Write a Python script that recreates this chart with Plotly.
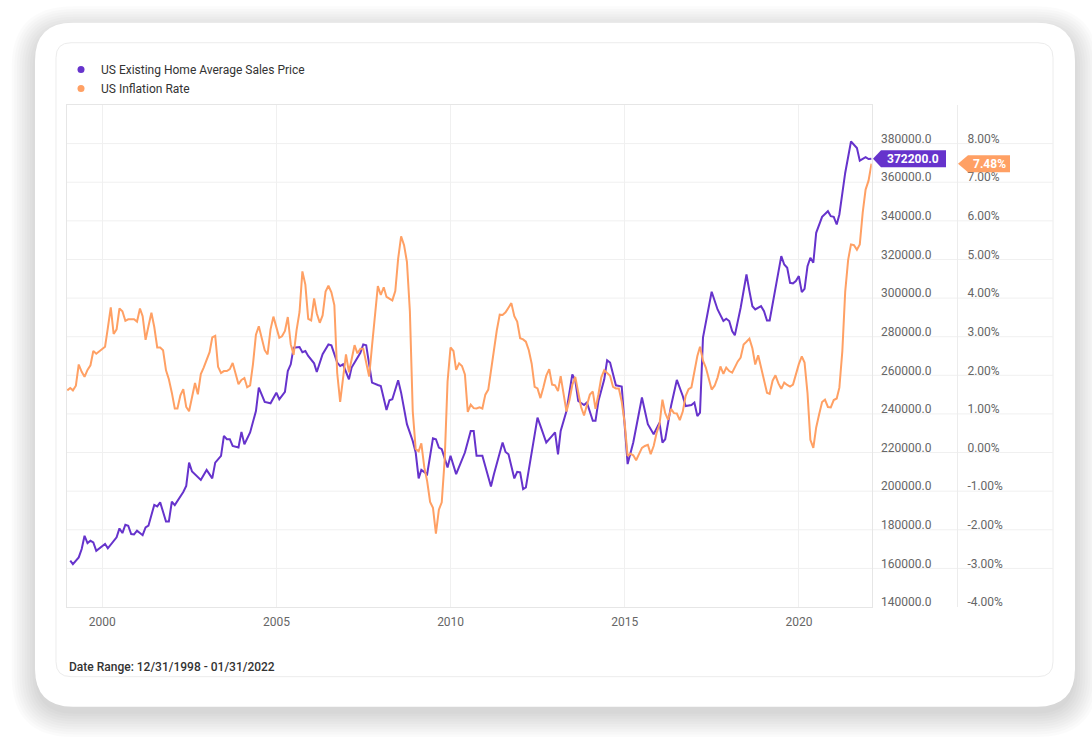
import plotly.graph_objects as go
import pandas as pd

# ---------------- data ----------------
price_months = [
    "1999-01", "1999-02", "1999-04", "1999-05", "1999-06", "1999-07", "1999-08", "1999-09", "1999-10",
    "2000-01", "2000-02", "2000-04", "2000-05", "2000-06", "2000-07", "2000-08", "2000-09", "2000-10", "2000-11", "2000-12",
    "2001-02", "2001-03", "2001-04", "2001-06", "2001-07", "2001-08", "2001-10", "2001-11", "2001-12",
    "2002-01", "2002-03", "2002-04", "2002-05", "2002-06", "2002-07", "2002-09", "2002-10", "2002-12",
    "2003-02", "2003-03", "2003-05", "2003-06", "2003-07", "2003-08", "2003-09", "2003-11", "2003-12",
    "2004-01", "2004-03", "2004-05", "2004-06", "2004-08", "2004-10", "2004-12",
    "2005-01", "2005-03", "2005-04", "2005-05", "2005-06", "2005-08", "2005-09", "2005-10", "2005-11",
    "2006-01", "2006-02", "2006-04", "2006-06", "2006-07", "2006-09", "2006-10", "2006-11",
    "2007-01", "2007-02", "2007-05", "2007-06", "2007-07", "2007-09", "2007-11", "2007-12",
    "2008-02", "2008-03", "2008-04", "2008-06", "2008-07", "2008-09", "2008-11", "2008-12",
    "2009-01", "2009-02", "2009-04", "2009-06", "2009-07", "2009-08", "2009-09", "2009-11", "2009-12",
    "2010-02", "2010-05", "2010-07", "2010-08", "2010-09", "2010-11",
    "2011-02", "2011-03", "2011-06", "2011-07", "2011-08", "2011-10", "2011-11", "2011-12",
    "2012-01", "2012-02", "2012-06", "2012-07", "2012-09", "2012-11", "2012-12",
    "2013-01", "2013-02", "2013-04", "2013-06", "2013-07", "2013-08", "2013-10", "2013-11",
    "2014-01", "2014-02", "2014-03", "2014-05", "2014-06", "2014-07", "2014-09", "2014-11",
    "2015-01", "2015-03", "2015-06", "2015-08", "2015-10", "2015-12",
    "2016-01", "2016-02", "2016-04", "2016-06", "2016-08", "2016-09", "2016-11", "2016-12",
    "2017-01", "2017-02", "2017-03", "2017-04", "2017-06", "2017-08", "2017-10", "2017-11", "2017-12",
    "2018-01", "2018-02", "2018-04", "2018-06", "2018-07", "2018-08", "2018-09", "2018-11", "2018-12",
    "2019-01", "2019-02", "2019-04", "2019-06", "2019-07", "2019-08", "2019-09", "2019-10", "2019-11", "2019-12",
    "2020-01", "2020-02", "2020-03", "2020-04", "2020-05", "2020-06", "2020-08", "2020-10", "2020-11", "2020-12",
    "2021-01", "2021-02", "2021-04", "2021-06", "2021-08", "2021-09", "2021-11", "2021-12",
    "2022-01",
]
price_values = [
    164000, 162200, 165700, 170000, 176900, 173100, 174300, 173500, 169100,
    172600, 170400, 174300, 176100, 180700, 178300, 182600, 182100, 177800, 177600, 179500,
    177200, 181200, 182100, 192900, 192100, 194200, 184300, 184300, 194500,
    192800, 197100, 199600, 202700, 214800, 210200, 207600, 205800, 211000,
    206600, 214800, 218300, 228600, 226900, 226900, 223400, 222600, 230700,
    224300, 230400, 241500, 253600, 246200, 245500, 251000,
    247600, 251400, 262200, 265700, 274300, 274600, 272000, 272600, 270000,
    266200, 261700, 270900, 276000, 275500, 266600, 264800, 265700,
    257900, 264000, 271700, 276000, 275500, 256200, 255000, 254500,
    242000, 247100, 247600, 257400, 251000, 234700, 226000, 220000,
    206600, 211000, 208800, 227400, 226900, 222600, 221700, 212300, 218300,
    208800, 220000, 231200, 231200, 218300, 218300,
    202400, 208800, 225200, 220300, 219100, 206600, 210000, 209700,
    201000, 201900, 238100, 233800, 225200, 228600, 230400,
    219100, 231200, 241500, 260500, 257400, 246700, 244600, 245900,
    236400, 236400, 246700, 257900, 267800, 266600, 254800, 254200,
    214000, 225200, 248500, 234700, 229500, 235500,
    225200, 226900, 244100, 257600, 249300, 244100, 244600, 245900,
    238900, 240700, 279500, 287300, 303300, 294100, 288100, 289300, 288100,
    282900, 280700, 295000, 312200, 303600, 295800, 294100, 295800, 293200,
    288400, 288400, 304500, 321700, 317400, 315700, 307900, 307600, 308800, 311400,
    303100, 304800, 316500, 320900, 318300, 333800, 342100, 345000, 342400, 342100,
    338100, 343300, 364800, 381100, 377700, 371200, 373000, 372000,
    372200,
]

infl_start = "1998-12-31"
infl_values = [
    1.61,
    1.67, 1.61, 1.73, 2.28, 2.09, 1.96, 2.14, 2.26, 2.63, 2.56, 2.62, 2.68,
    2.74, 3.22, 3.76, 3.07, 3.19, 3.73, 3.66, 3.41, 3.45, 3.45, 3.45, 3.39,
    3.73, 3.53, 2.92, 3.27, 3.62, 3.25, 2.72, 2.72, 2.65, 2.13, 1.90, 1.55,
    1.14, 1.14, 1.48, 1.64, 1.18, 1.07, 1.46, 1.80, 1.51, 2.03, 2.20, 2.38,
    2.60, 2.98, 3.02, 2.22, 2.06, 2.11, 2.11, 2.16, 2.32, 2.04, 1.77, 1.88,
    1.93, 1.69, 1.74, 2.29, 3.05, 3.27, 2.99, 2.65, 2.54, 3.19, 3.52, 3.26,
    2.97, 3.01, 3.15, 3.51, 2.80, 2.53, 3.17, 3.64, 4.69, 4.35, 3.46, 3.42,
    3.99, 3.60, 3.36, 3.55, 4.17, 4.32, 4.15, 3.82, 2.06, 1.31, 1.97, 2.54,
    2.08, 2.42, 2.78, 2.57, 2.69, 2.69, 2.36, 1.97, 2.76, 3.54, 4.31, 4.08,
    4.28, 4.03, 3.98, 3.94, 4.18, 5.02, 5.60, 5.37, 4.94, 3.66, 1.07, 0.09,
    0.03, 0.24, -0.38, -0.74, -1.28, -1.43, -2.10, -1.48, -1.29, -0.18, 1.84, 2.72,
    2.63, 2.14, 2.31, 2.24, 2.02, 1.05, 1.24, 1.15, 1.14, 1.17, 1.14, 1.50,
    1.63, 2.11, 2.68, 3.16, 3.57, 3.56, 3.63, 3.77, 3.87, 3.53, 3.39, 2.96,
    2.93, 2.87, 2.65, 2.30, 1.70, 1.66, 1.41, 1.69, 1.99, 2.16, 1.76, 1.74,
    1.59, 1.98, 1.47, 1.06, 1.36, 1.75, 1.96, 1.52, 1.18, 0.96, 1.24, 1.50,
    1.58, 1.13, 1.51, 1.95, 2.13, 2.07, 1.99, 1.70, 1.66, 1.66, 1.32, 0.76,
    -0.09, -0.03, -0.07, -0.20, -0.04, 0.12, 0.17, 0.20, -0.04, 0.17, 0.50, 0.73,
    1.37, 1.02, 0.85, 1.13, 1.02, 1.01, 0.84, 1.06, 1.46, 1.64, 1.69, 2.07,
    2.50, 2.74, 2.38, 2.20, 1.87, 1.63, 1.73, 1.94, 2.23, 2.04, 2.20, 2.11,
    2.07, 2.21, 2.36, 2.46, 2.80, 2.87, 2.95, 2.70, 2.28, 2.52, 2.18, 1.91,
    1.55, 1.52, 1.86, 2.00, 1.79, 1.65, 1.81, 1.75, 1.71, 1.76, 2.05, 2.29,
    2.49, 2.33, 1.54, 0.33, 0.12, 0.65, 0.99, 1.31, 1.37, 1.18, 1.17, 1.36,
    1.40, 1.68, 2.62, 4.16, 4.99, 5.39, 5.37, 5.25, 5.39, 6.22, 6.81, 7.04,
    7.48,
]

price_ticks = [140000, 160000, 180000, 200000, 220000, 240000, 260000,
               280000, 300000, 320000, 340000, 360000, 380000]
infl_ticks = [-4, -3, -2, -1, 0, 1, 2, 3, 4, 5, 6, 7, 8]
year_ticks = ["2000", "2005", "2010", "2015", "2020"]

series_names = ["US Existing Home Average Sales Price", "US Inflation Rate"]
date_range_text = "Date Range: 12/31/1998 - 01/31/2022"

PURPLE = "#6633cc"
ORANGE = "#ffa064"
FONT = "Roboto"

price_dates = pd.to_datetime(price_months) + pd.offsets.MonthEnd(0)
infl_dates = pd.date_range(infl_start, periods=len(infl_values), freq="ME")

# ---------------- geometry (page pixels) ----------------
W, H = 1092, 737
L, T = 67, 105          # plot left / top
PR = 871.7              # plot right
AXR = 957               # second axis line
B = 607.3               # plot bottom


def fx(px):
    return (px - L) / (AXR - L)


def fy(py):
    return (B - py) / (B - T)


def rrect(x0, y0, x1, y1, r):
    pts = [
        ("M", [(x0 + r, y0)]), ("L", [(x1 - r, y0)]), ("Q", [(x1, y0), (x1, y0 + r)]),
        ("L", [(x1, y1 - r)]), ("Q", [(x1, y1), (x1 - r, y1)]), ("L", [(x0 + r, y1)]),
        ("Q", [(x0, y1), (x0, y1 - r)]), ("L", [(x0, y0 + r)]), ("Q", [(x0, y0), (x0 + r, y0)]),
    ]
    s = ""
    for cmd, ps in pts:
        s += cmd + " " + " ".join(f"{fx(a):.5f},{fy(b):.5f}" for a, b in ps) + " "
    return s + "Z"


fig = go.Figure()

fig.add_trace(go.Scatter(x=price_dates, y=price_values, mode="lines",
                         line=dict(color=PURPLE, width=2), yaxis="y",
                         showlegend=False, hoverinfo="skip"))
fig.add_trace(go.Scatter(x=infl_dates, y=infl_values, mode="lines",
                         line=dict(color=ORANGE, width=2), yaxis="y2",
                         showlegend=False, hoverinfo="skip"))
# legend entries (circles)
for name, col in zip(series_names, [PURPLE, ORANGE]):
    fig.add_trace(go.Scatter(x=[None], y=[None], mode="markers", name=name,
                             marker=dict(color=col, size=7, symbol="circle")))

shapes = []
# card shadow
for i in range(10):
    s = 2.6 * i
    shapes.append(dict(type="path", xref="paper", yref="paper", layer="below",
                       path=rrect(35 - s, 22.7 - s + 7, 1075 + s, 707 + s + 7, 38 + s),
                       fillcolor="rgba(0,0,0,0.016)", line=dict(width=0)))
# card
shapes.append(dict(type="path", xref="paper", yref="paper", layer="below",
                   path=rrect(35, 22.7, 1075, 707, 38),
                   fillcolor="white", line=dict(width=0)))
# inner frame
shapes.append(dict(type="path", xref="paper", yref="paper", layer="below",
                   path=rrect(56, 42.7, 1053, 677, 15),
                   fillcolor="rgba(0,0,0,0)", line=dict(color="#ececec", width=1)))
# horizontal gridlines spanning into the label area
for v in price_ticks[1:]:
    shapes.append(dict(type="line", xref="paper", yref="y", layer="below",
                       x0=0, x1=fx(1053), y0=v, y1=v,
                       line=dict(color="#f0f0f0", width=1)))
# value badges
shapes.append(dict(type="path", xref="paper", yref="y", ysizemode="pixel",
                   yanchor=price_values[-1], layer="above",
                   path=f"M {fx(873):.5f},0 L {fx(881):.5f},8.5 L {fx(946):.5f},8.5 "
                        f"L {fx(946):.5f},-8.5 L {fx(881):.5f},-8.5 Z",
                   fillcolor=PURPLE, line=dict(width=0)))
shapes.append(dict(type="path", xref="paper", yref="y2", ysizemode="pixel",
                   yanchor=infl_values[-1], layer="above",
                   path=f"M {fx(958):.5f},0 L {fx(968):.5f},8.5 L {fx(1010):.5f},8.5 "
                        f"L {fx(1010):.5f},-8.5 L {fx(968):.5f},-8.5 Z",
                   fillcolor=ORANGE, line=dict(width=0)))

annotations = [
    dict(x=0, y=fy(667), xref="paper", yref="paper", xanchor="left", yanchor="middle",
         text=date_range_text, showarrow=False,
         font=dict(family=FONT, size=12, color="#333333", weight=500)),
    dict(x=fx(913), y=price_values[-1], xref="paper", yref="y",
         xanchor="center", yanchor="middle", showarrow=False,
         text=f"{price_values[-1]:.1f}",
         font=dict(family=FONT, size=12, color="white", weight="bold")),
    dict(x=fx(989), y=infl_values[-1], xref="paper", yref="y2",
         xanchor="center", yanchor="middle", showarrow=False,
         text=f"{infl_values[-1]:.2f}%",
         font=dict(family=FONT, size=12, color="white", weight="bold")),
]

fig.update_layout(
    width=W, height=H,
    margin=dict(l=L, r=W - AXR, t=T, b=H - B, pad=0),
    paper_bgcolor="white", plot_bgcolor="rgba(0,0,0,0)",
    font=dict(family=FONT, size=12, color="#666666"),
    showlegend=True,
    legend=dict(x=fx(61), y=fy(55), xanchor="left", yanchor="top",
                bgcolor="rgba(0,0,0,0)", font=dict(family=FONT, size=12, color="#333333"),
                itemsizing="trace", tracegroupgap=0),
    xaxis=dict(type="date", domain=[0, fx(PR)],
               range=["1998-12-28", "2022-02-02"],
               tickvals=[f"{y}-01-01" for y in year_ticks], ticktext=year_ticks,
               showgrid=True, gridcolor="#f0f0f0", gridwidth=1,
               showline=True, mirror=True, linecolor="#e6e6e6", linewidth=1,
               ticks="", zeroline=False, ticklabelstandoff=4,
               tickfont=dict(family=FONT, size=12, color="#666666")),
    yaxis=dict(side="right", range=[140000, 400000],
               tickvals=price_ticks, ticktext=[f"{v:.1f}" for v in price_ticks],
               showgrid=False, zeroline=False,
               showline=True, mirror=True, linecolor="#e6e6e6", linewidth=1,
               ticks="", ticklabelstandoff=6, ticklabelshift=-5,
               tickfont=dict(family=FONT, size=12, color="#666666")),
    yaxis2=dict(side="right", overlaying="y", anchor="free", position=1,
                range=[-4, 9],
                tickvals=infl_ticks, ticktext=[f"{v:.2f}%" for v in infl_ticks],
                showgrid=False, zeroline=False,
                showline=True, linecolor="#ececec", linewidth=1,
                ticks="", ticklabelstandoff=7, ticklabelshift=-5,
                tickfont=dict(family=FONT, size=12, color="#666666")),
    shapes=shapes,
    annotations=annotations,
)

fig.write_html("out.html", config={"displayModeBar": False},
               post_script="document.body.style.margin='0';document.body.style.overflow='hidden';")
